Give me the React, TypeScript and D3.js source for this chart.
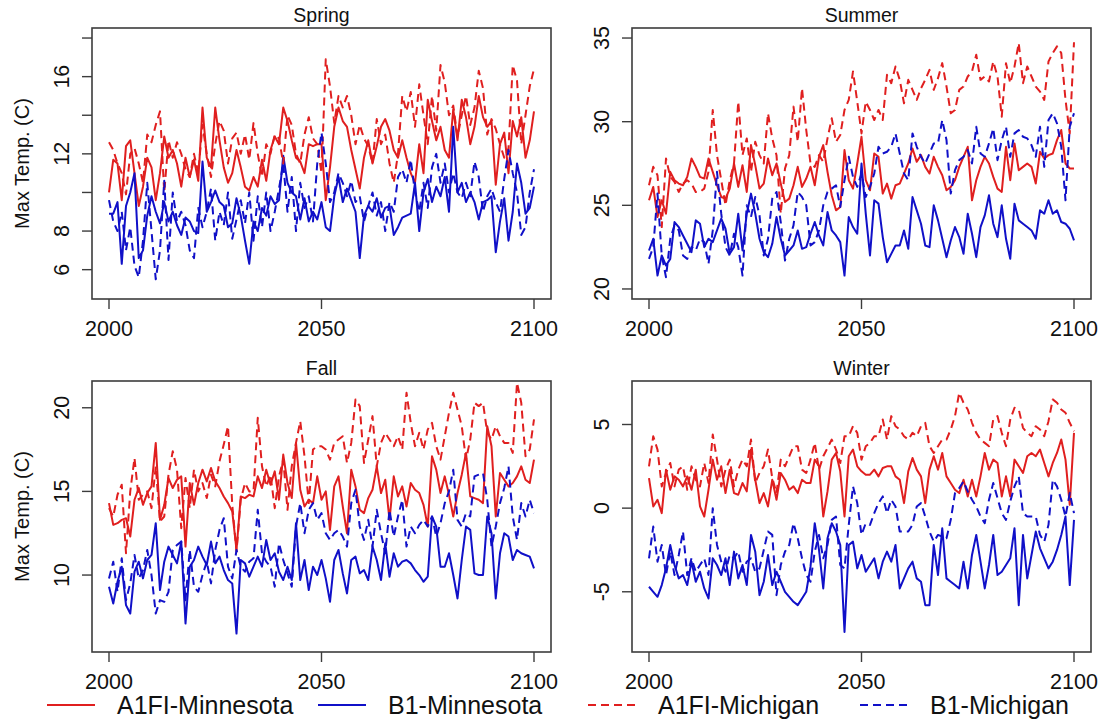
import React from "react";
import * as d3 from "d3";

// Seasonal maximum temperature projections, 2000-2100 (one value per year)
const years: number[] = d3.range(2000, 2101);

const seriesNames = ["A1FI-Minnesota", "B1-Minnesota", "A1FI-Michigan", "B1-Michigan"];
const seasons = ["Spring", "Summer", "Fall", "Winter"];

const springA1Mn = [
  10.0, 11.7, 11.5, 9.6, 12.4, 12.7, 11.0, 9.3, 10.3, 11.8,
  11.3, 9.6, 11.0, 12.9, 11.8, 12.2, 11.5, 10.3, 11.8, 10.8,
  11.7, 10.6, 14.4, 11.8, 11.3, 14.4, 12.7, 11.3, 10.5, 11.0,
  12.2, 11.3, 10.3, 10.1, 10.8, 10.3, 11.7, 10.6, 12.2, 12.9,
  12.5, 14.4, 13.7, 12.7, 11.8, 11.6, 11.0, 12.5, 12.4, 12.5,
  12.5, 9.6, 11.3, 13.4, 14.4, 13.7, 13.4, 12.2, 11.2, 10.2,
  11.8, 12.7, 11.5, 12.4, 13.4, 13.8, 13.2, 12.2, 11.8, 12.7,
  11.8, 11.0, 10.5, 12.5, 11.0, 14.8, 13.7, 12.7, 13.4, 12.2,
  11.8, 14.3, 12.7, 14.8, 13.9, 12.5, 13.4, 15.0, 13.9, 13.4,
  13.7, 10.4, 12.5, 13.1, 11.0, 13.7, 12.9, 13.9, 11.8, 12.7, 14.2,
];
const springB1Mn = [
  8.9, 8.9, 9.5, 6.3, 9.3, 10.0, 11.0, 6.6, 7.0, 8.8,
  9.8, 9.0, 8.4, 9.5, 8.5, 9.0, 8.3, 7.8, 8.7, 8.5,
  8.0, 7.9, 11.6, 9.0, 9.5, 10.1, 9.5, 9.3, 8.2, 8.4,
  9.7, 8.8, 7.5, 6.3, 8.5, 8.0, 9.2, 8.8, 9.8, 9.4,
  9.6, 11.9, 10.5, 10.0, 9.8, 8.6, 9.7, 8.5, 9.0, 8.6,
  9.5, 8.2, 8.0, 9.8, 10.8, 9.5, 10.2, 9.6, 9.0, 6.6,
  8.8, 9.3, 9.0, 9.7, 8.7, 9.2, 9.3, 7.8, 8.2, 8.7,
  8.8, 8.9, 10.5, 8.0, 10.0, 10.7, 9.5, 10.3, 9.8, 10.8,
  9.0, 13.4, 10.0, 10.5, 9.5, 10.0, 9.5, 8.6, 9.5, 9.6,
  9.8, 6.9, 8.5, 9.7, 7.5, 9.0, 11.5, 10.5, 8.9, 9.2, 10.3,
];
const springA1Mi = [
  12.6, 12.2, 11.5, 11.0, 9.9, 12.0, 12.3, 11.5, 10.5, 13.0,
  12.6, 13.5, 14.2, 10.0, 12.7, 11.8, 12.6, 12.0, 11.2, 10.8,
  12.0, 11.0, 13.5, 12.0, 10.8, 12.5, 13.7, 13.2, 11.5, 12.8,
  13.1, 12.0, 13.0, 11.7, 13.6, 12.0, 10.8, 12.5, 12.0, 13.0,
  12.8, 11.5, 14.0, 13.5, 12.0, 11.5, 13.0, 13.9, 12.8, 12.5,
  11.0, 16.9, 15.5, 13.6, 15.0, 14.4, 15.0, 14.0, 12.5, 13.5,
  12.8, 12.4, 11.5, 13.8, 12.5, 13.0, 11.5, 10.5, 12.0, 15.0,
  14.2, 15.2, 13.4, 15.6, 14.0, 12.5, 15.0, 13.2, 16.6, 15.7,
  14.0, 14.5, 12.9, 14.0, 15.0, 13.5, 14.4, 16.3, 15.4, 13.0,
  13.8, 13.3, 12.5, 11.8, 12.3, 16.6, 15.8, 12.5, 14.0, 15.5, 16.4,
];
const springB1Mi = [
  9.6, 8.5, 8.0, 9.0, 7.0, 8.2, 6.2, 5.6, 7.5, 10.5,
  8.0, 5.5, 7.0, 10.6, 6.5, 10.0, 8.5, 9.0, 8.3, 7.0,
  6.6, 9.2, 8.2, 9.0, 10.2, 7.5, 9.0, 8.3, 10.0, 7.6,
  8.6, 9.6, 8.4, 10.0, 7.5, 9.8, 8.2, 10.0, 8.0, 9.0,
  10.2, 11.5, 9.0, 10.8, 8.0, 10.5, 9.2, 9.8, 8.5, 11.5,
  13.1, 11.5, 9.5, 10.0, 11.0, 10.5, 9.8, 10.6, 9.5, 9.8,
  8.5, 9.3, 10.0, 8.8, 9.5, 8.0, 9.5, 9.0, 10.8, 11.2,
  10.5, 11.7, 10.0, 9.0, 10.5, 9.2, 11.3, 12.0, 10.5, 11.5,
  10.0, 11.0, 10.0, 9.7, 10.5, 9.8, 11.6, 10.8, 9.0, 9.8,
  10.2, 9.5, 9.0, 10.7, 12.2, 11.0, 10.0, 7.8, 8.2, 10.0, 11.2,
];

const summerA1Mn = [
  25.3, 26.1, 24.3, 25.3, 24.5, 27.0, 26.5, 26.3, 26.2, 26.7,
  27.8, 27.3, 26.7, 26.6, 27.8, 27.0, 26.2, 25.5, 25.4, 26.0,
  27.5, 26.1, 27.4, 25.8, 28.6, 27.4, 26.0, 26.3, 27.8, 26.8,
  27.5, 26.3, 25.2, 25.4, 26.2, 27.3, 26.1, 26.6, 27.3, 26.2,
  27.9, 28.6, 27.0, 25.6, 24.7, 24.9, 28.3, 26.5, 26.0, 27.5,
  29.1, 26.5, 25.9, 28.1, 27.9, 25.7, 26.3, 25.4, 26.2, 26.3,
  26.9, 27.5, 28.4, 27.6, 28.0, 27.3, 26.9, 27.9, 27.3, 26.8,
  25.9, 26.1, 26.5, 27.3, 27.9, 28.5, 25.3, 26.5, 27.3, 27.9,
  27.5, 26.7, 26.0, 25.8, 28.5, 26.5, 28.7, 27.1, 27.3, 27.5,
  27.3, 26.3, 28.2, 27.8, 28.0, 28.1, 28.9, 29.5, 27.5, 27.2, 27.2,
];
const summerB1Mn = [
  22.3, 23.0, 20.8, 22.0, 21.4, 21.8, 24.0, 23.7, 23.2, 22.7,
  22.2, 24.1, 23.9, 22.5, 23.0, 22.8, 23.5, 24.2, 23.6, 22.1,
  22.5, 24.5, 22.3, 24.5, 25.7, 24.5, 23.0, 22.2, 21.9, 22.7,
  24.3, 23.0, 22.0, 22.3, 22.6, 23.5, 22.4, 22.5, 23.3, 24.0,
  23.2, 22.6, 24.6, 23.5, 23.2, 22.8, 20.8, 24.3, 23.7, 23.3,
  27.5, 24.5, 22.0, 25.3, 25.1, 23.1, 21.6, 22.1, 22.6, 22.6,
  23.5, 22.4, 25.5, 24.7, 23.9, 22.6, 22.5, 25.0, 24.1, 23.0,
  21.9, 22.9, 23.7, 23.1, 22.1, 24.5, 23.3, 21.9, 23.7, 24.4,
  25.6, 23.9, 23.1, 25.0, 23.0, 21.8, 25.1, 24.1, 23.9, 23.7,
  23.5, 23.0, 24.7, 24.5, 25.3, 24.5, 24.7, 24.0, 23.9, 23.6, 22.9,
];
const summerA1Mi = [
  26.2, 27.3, 26.8, 23.7, 27.8, 26.7, 26.4, 25.8, 26.3, 26.5,
  26.3, 25.8, 25.8, 26.0, 27.0, 30.7, 28.0, 26.5, 25.0, 26.5,
  27.5, 31.2, 28.0, 29.0, 27.0, 28.8, 28.0, 27.5, 30.5, 29.0,
  28.0, 24.5, 27.2, 28.0, 30.9, 28.8, 32.0, 29.5, 27.5, 27.3,
  28.0, 27.6, 29.0, 30.2, 28.8, 29.2, 30.7, 31.3, 33.0, 31.2,
  29.3, 31.2, 30.7, 30.1, 30.7, 30.1, 32.8, 32.3, 33.3, 32.5,
  31.1, 32.5, 31.9, 31.3, 32.0, 32.5, 33.1, 31.9, 32.6, 33.5,
  32.1, 30.5, 30.7, 31.9, 32.1, 32.7, 33.0, 34.0, 32.5, 32.7,
  32.4, 33.6, 32.7, 30.3, 33.5, 32.3, 33.3, 34.7, 32.3, 33.3,
  32.7, 32.1, 31.8, 31.3, 33.6, 34.1, 34.5, 34.1, 31.3, 29.3, 34.75,
];
const summerB1Mi = [
  21.8, 22.5, 25.7, 22.0, 20.7, 23.0, 23.8, 23.5, 22.0, 21.8,
  22.5, 22.3, 23.0, 22.8, 21.5, 23.5, 27.0, 24.5, 22.5, 22.0,
  23.3, 22.5, 20.8, 25.0, 24.3, 25.5, 24.4, 22.0, 23.0, 25.4,
  25.8, 24.0, 21.7, 23.0, 23.8, 25.8, 25.5, 25.0, 22.6, 22.8,
  23.5, 25.0, 25.8, 26.0, 26.2, 24.9, 26.5, 27.9, 26.7, 26.1,
  26.9, 25.5, 26.1, 26.9, 28.5, 28.1, 28.2, 28.5, 29.3, 28.1,
  26.9, 26.5, 29.3, 28.5, 27.9, 27.5, 28.1, 28.7, 28.7, 30.1,
  28.9, 25.7, 27.1, 27.7, 27.9, 28.3, 27.5, 29.7, 28.1, 27.9,
  28.7, 29.6, 27.7, 28.9, 29.7, 27.9, 29.3, 29.5, 29.1, 29.0,
  28.6, 27.9, 29.7, 27.3, 30.1, 30.5, 29.9, 28.5, 25.3, 29.7, 30.5,
];

const fallA1Mn = [
  14.3, 13.0, 13.1, 13.3, 13.4, 12.3, 14.5, 15.2, 14.2, 14.9,
  15.3, 17.9, 13.3, 14.2, 15.8, 15.2, 15.7, 15.9, 11.7, 15.5,
  14.2, 15.5, 16.3, 15.6, 16.4, 15.6, 15.2, 14.7, 14.3, 13.8,
  11.5, 14.7, 14.6, 14.8, 14.7, 15.9, 15.2, 16.3, 15.4, 16.2,
  14.5, 17.2, 15.5, 14.6, 17.9, 15.1, 14.1, 14.5, 14.3, 15.9,
  14.5, 15.0, 12.7, 15.3, 15.9, 14.1, 12.5, 16.3, 15.3, 13.9,
  13.7, 14.6, 15.1, 16.5, 14.9, 15.7, 13.3, 15.9, 14.7, 15.3,
  14.1, 15.5, 15.1, 14.9, 14.2, 12.9, 17.1, 16.3, 14.9, 15.9,
  14.8, 13.5, 14.9, 16.0, 17.3, 14.7, 14.6, 14.5, 14.3, 18.9,
  17.7, 13.5, 16.1, 15.7, 15.3, 15.5, 15.9, 16.5, 15.7, 15.5, 16.9,
];
const fallB1Mn = [
  9.3, 8.3, 9.6, 10.5, 8.2, 7.7, 10.2, 10.8, 9.8, 10.9,
  11.2, 13.1, 9.1, 10.8, 11.7, 11.2, 10.7, 12.0, 7.1, 10.5,
  10.9, 11.7, 11.1, 10.6, 12.0, 10.7, 11.1, 10.3, 9.7, 9.5,
  6.5, 10.9, 10.7, 9.9, 10.5, 11.1, 10.5, 12.1, 10.9, 11.3,
  10.2, 9.7, 10.5, 9.7, 13.1, 9.7, 10.9, 9.1, 10.5, 10.0,
  10.9, 9.8, 8.4, 10.9, 11.5, 10.1, 8.9, 10.9, 11.1, 10.1,
  10.3, 9.7, 11.7, 10.9, 9.7, 11.9, 9.9, 11.3, 10.5, 10.8,
  10.9, 10.7, 10.3, 10.0, 9.6, 9.9, 13.5, 12.9, 10.5, 10.5,
  11.3, 10.0, 8.6, 10.9, 12.9, 12.7, 10.1, 10.0, 10.0, 13.5,
  12.5, 8.6, 11.3, 12.5, 12.3, 10.9, 11.5, 11.3, 11.2, 11.1, 10.4,
];
const fallA1Mi = [
  14.0, 13.5, 14.8, 15.4, 11.3, 15.0, 17.0, 14.5, 14.8, 15.0,
  14.0, 16.5, 13.2, 13.5, 16.0, 17.4, 16.3, 12.8, 15.8, 14.0,
  16.3, 15.0, 15.5, 14.6, 16.0, 15.3, 16.8, 17.8, 18.9, 14.2,
  11.4, 14.5, 15.5, 15.0, 15.0, 19.4, 16.5, 15.3, 16.0, 14.0,
  15.9, 16.9, 13.9, 16.5, 17.9, 19.2, 17.1, 14.3, 17.5, 17.7,
  17.7, 17.5, 16.9, 17.9, 18.1, 18.3, 16.7, 17.9, 20.5, 20.1,
  16.7, 18.1, 19.5, 16.5, 17.9, 18.5, 18.1, 17.7, 18.3, 17.5,
  20.9, 19.1, 17.7, 18.5, 17.5, 18.7, 19.1, 17.7, 16.9, 18.3,
  19.7, 20.9, 19.9, 18.9, 16.9, 18.1, 20.3, 20.1, 20.3, 18.5,
  18.1, 18.9, 18.3, 17.9, 17.9, 17.3, 21.5, 20.3, 17.1, 17.5, 19.3,
];
const fallB1Mi = [
  9.8, 10.8, 9.0, 11.0, 8.5, 9.5, 11.2, 9.8, 10.3, 11.5,
  10.0, 7.7, 8.5, 8.4, 9.0, 11.5, 11.8, 12.0, 8.5, 11.5,
  9.3, 9.0, 10.0, 10.8, 9.5, 11.5, 12.7, 13.4, 10.5, 9.8,
  11.5, 10.5, 10.2, 10.8, 11.0, 13.9, 11.3, 10.8, 10.5, 9.3,
  11.9, 10.9, 10.1, 9.3, 12.9, 14.3, 12.5, 13.9, 14.3, 13.3,
  13.7, 12.5, 12.1, 12.5, 12.7, 12.3, 11.7, 14.3, 15.1, 12.9,
  12.1, 13.3, 11.7, 13.9, 12.5, 11.3, 13.9, 12.3, 13.5, 14.5,
  11.7, 12.9, 12.5, 13.0, 13.3, 12.9, 13.5, 12.3, 13.1, 14.3,
  15.0, 16.3, 13.3, 12.9, 13.7, 13.5, 15.9, 16.0, 16.1, 14.5,
  11.7, 12.9, 14.3, 15.2, 16.5, 13.5, 12.1, 14.3, 13.5, 14.5, 13.7,
];

const winterA1Mn = [
  1.8, 0.1, 0.5, -0.3, 2.3, 1.1, 1.9, 1.7, 1.3, 1.9,
  1.1, 2.3, 0.1, -0.5, 1.1, 2.9, 1.7, 2.5, 0.9, 2.3,
  0.9, 0.8, 1.5, 1.0, 3.5, 1.7, 0.3, 0.9, 0.1, 1.7,
  0.5, 2.1, 1.7, 1.1, 1.3, 0.9, 1.7, 1.5, 1.5, 2.9,
  2.5, -0.5, 1.0, 2.9, 3.3, 2.2, -0.5, 3.1, 3.5, 2.5,
  2.2, 2.0, 2.0, 2.3, 1.9, 2.4, 2.5, 2.5, 1.9, 1.7,
  0.3, 2.2, 3.0, 2.3, 1.9, 0.3, 2.3, 3.1, 2.3, 3.3,
  1.9, 1.5, 1.1, 0.9, 1.7, 0.7, 1.7, 0.7, 1.9, 3.3,
  2.3, 2.9, 2.7, 0.7, 1.9, 0.7, 2.9, 2.5, 2.1, 3.1,
  3.3, 3.1, 3.5, 2.7, 1.9, 2.7, 3.3, 4.1, 2.9, 0.2, 4.5,
];
const winterB1Mn = [
  -4.7, -5.0, -5.3, -4.6, -3.6, -2.2, -3.4, -4.2, -4.0, -4.6,
  -3.2, -4.4, -3.8, -4.8, -5.4, -3.0, -3.4, -4.0, -3.0, -4.6,
  -2.6, -4.2, -3.4, -4.6, -1.6, -2.6, -5.2, -4.4, -2.8, -4.6,
  -3.8, -4.4, -5.0, -5.3, -5.6, -5.8, -5.4, -5.0, -3.5, -0.9,
  -2.5, -4.8, -1.8, -0.9, -1.4, -2.2, -7.4, -2.2, -2.0, -3.6,
  -2.8, -3.8, -3.4, -3.0, -4.2, -3.2, -2.6, -3.2, -2.2, -4.8,
  -4.2, -3.6, -3.2, -4.2, -4.4, -5.8, -5.8, -2.2, -4.0, -1.2,
  -4.2, -4.4, -4.6, -4.8, -3.2, -4.8, -2.8, -1.6, -3.2, -4.8,
  -3.4, -1.6, -4.0, -3.8, -3.4, -3.0, -1.2, -5.8, -1.6, -4.2,
  -2.8, -1.4, -2.4, -3.0, -3.6, -3.2, -2.5, -1.6, -0.5, -4.6, -0.7,
];
const winterA1Mi = [
  2.5, 4.3, 3.5, 1.3, 2.1, 2.7, 1.3, 2.3, 2.5, 1.1,
  2.5, 1.7, 1.3, 2.7, 1.5, 4.4, 2.9, 1.3, 2.3, 2.9,
  1.3, 2.3, 2.9, 2.5, 4.1, 1.5, 2.1, 2.5, 3.5, 1.8,
  0.9, 2.9, 2.5, 3.1, 3.7, 3.7, 2.3, 2.1, 2.9, 3.9,
  2.3, 3.1, 3.6, 4.1, 3.5, 2.7, 4.3, 4.3, 4.9, 4.5,
  2.9, 3.7, 3.9, 4.3, 4.3, 5.3, 4.1, 5.5, 4.9, 4.7,
  4.3, 4.1, 4.5, 4.3, 4.9, 5.1, 3.7, 3.3, 3.7, 4.1,
  4.1, 4.7, 5.5, 6.9, 6.3, 5.9, 5.1, 4.5, 4.1, 3.9,
  3.7, 5.3, 5.5, 4.5, 3.7, 5.3, 6.0, 5.9, 4.8, 4.5,
  4.3, 4.9, 4.7, 4.3, 5.2, 6.5, 6.3, 5.9, 5.7, 5.1, 4.6,
];
const winterB1Mi = [
  -3.0, -1.1, -3.2, -2.2, -4.0, -2.6, -4.0, -2.8, -1.4, -4.0,
  -3.0, -3.8, -3.4, -3.0, -4.0, 0.0, -2.2, -3.2, -3.8, -2.8,
  -3.0, -2.6, -3.8, -3.2, -3.0, -3.8, -3.6, -2.5, -1.4, -1.6,
  -5.2, -3.4, -2.6, -2.2, -0.9, -1.8, -3.0, -4.0, -4.4, -2.6,
  -1.6, -3.0, -2.2, -0.7, -0.5, -3.4, -3.6, -1.0, 1.3, 0.3,
  -1.6, -0.9, -1.0, -0.3, 0.3, 0.7, -0.3, 0.5, 0.1, -1.4,
  -1.4, -1.4, -1.0, 0.1, 0.3, -0.5, -1.4, -2.0, -1.6, -1.7,
  -1.8, -0.7, 0.9, 1.2, 1.6, 1.0, 0.5, 0.1, -0.5, -0.9,
  0.5, 1.5, 0.6, -0.3, -0.7, 0.4, 1.3, 1.9, -0.3, -0.5,
  -0.5, -0.5, -1.6, -2.0, -1.0, 1.7, 1.3, 0.5, -0.5, 0.9, -0.3,
];

// y-axis limits, tick positions and which ticks carry a label, per season
const yLimits: [number, number][] = [[5, 18], [20, 35], [6, 21], [-8, 7]];
const yTicks: number[][] = [[6, 8, 10, 12, 14, 16, 18], [20, 25, 30, 35], [10, 15, 20], [-5, 0, 5]];
const yTickLabels: number[][] = [[6, 8, 12, 16], [20, 25, 30, 35], [10, 15, 20], [-5, 0, 5]];
const xTicks = [2000, 2050, 2100];

// series order matches seriesNames: A1FI-MN, B1-MN, A1FI-MI, B1-MI
const seasonData: number[][][] = [
  [springA1Mn, springB1Mn, springA1Mi, springB1Mi],
  [summerA1Mn, summerB1Mn, summerA1Mi, summerB1Mi],
  [fallA1Mn, fallB1Mn, fallA1Mi, fallB1Mi],
  [winterA1Mn, winterB1Mn, winterA1Mi, winterB1Mi],
];

// styling
const RED = "#e01f1f";
const BLUE = "#1010c8";
const seriesColor = [RED, BLUE, RED, BLUE];
const seriesDash = [null, null, "8,5", "8,5"];
const FRAME = "#3c3c3c";
const FONT = "'Liberation Sans', Arial, Helvetica, sans-serif";

// panel frames (left, right, top, bottom)
const frames = [
  { x0: 92, x1: 551, y0: 28, y1: 299 },
  { x0: 632, x1: 1091, y0: 28, y1: 299 },
  { x0: 92, x1: 551, y0: 381, y1: 652 },
  { x0: 632, x1: 1091, y0: 381, y1: 652 },
];

const legendX = [47, 318, 588, 860];
const legendY = 705;

function extend([lo, hi]: [number, number]): [number, number] {
  const pad = (hi - lo) * 0.04;
  return [lo - pad, hi + pad];
}

function Panel({ idx }: { idx: number }) {
  const f = frames[idx];
  const x = d3.scaleLinear().domain(extend([2000, 2100])).range([f.x0, f.x1]);
  const y = d3.scaleLinear().domain(extend(yLimits[idx])).range([f.y1, f.y0]);
  const line = d3
    .line<number>()
    .x((_, i) => x(years[i]))
    .y((v) => y(v));
  const showYLab = idx % 2 === 0;
  return (
    <g>
      <defs>
        <clipPath id={`clip-${idx}`}>
          <rect x={f.x0} y={f.y0} width={f.x1 - f.x0} height={f.y1 - f.y0} />
        </clipPath>
      </defs>
      <g clipPath={`url(#clip-${idx})`}>
        {seasonData[idx].map((vals, s) => (
          <path
            key={s}
            d={line(vals) || ""}
            fill="none"
            stroke={seriesColor[s]}
            strokeWidth={2}
            strokeDasharray={seriesDash[s] || undefined}
            strokeLinejoin="round"
          />
        ))}
      </g>
      <rect
        x={f.x0}
        y={f.y0}
        width={f.x1 - f.x0}
        height={f.y1 - f.y0}
        fill="none"
        stroke={FRAME}
        strokeWidth={1.6}
      />
      {xTicks.map((t) => (
        <g key={t}>
          <line x1={x(t)} x2={x(t)} y1={f.y1} y2={f.y1 + 10} stroke={FRAME} strokeWidth={1.4} />
          <text
            x={x(t)}
            y={f.y1 + 37}
            textAnchor="middle"
            fontSize={21.5}
            fontFamily={FONT}
            fill="#111"
          >
            {t}
          </text>
        </g>
      ))}
      {yTicks[idx].map((t) => (
        <line key={t} x1={f.x0 - 10} x2={f.x0} y1={y(t)} y2={y(t)} stroke={FRAME} strokeWidth={1.4} />
      ))}
      {yTickLabels[idx].map((t) => (
        <text
          key={t}
          transform={`translate(${f.x0 - 23},${y(t)}) rotate(-90)`}
          textAnchor="middle"
          fontSize={21.5}
          fontFamily={FONT}
          fill="#111"
        >
          {t}
        </text>
      ))}
      <text
        x={(f.x0 + f.x1) / 2}
        y={f.y0 - 6}
        textAnchor="middle"
        fontSize={19.5}
        fontFamily={FONT}
        fill="#111"
      >
        {seasons[idx]}
      </text>
      {showYLab && (
        <text
          transform={`translate(29,${(f.y0 + f.y1) / 2}) rotate(-90)`}
          textAnchor="middle"
          fontSize={20}
          fontFamily={FONT}
          fill="#111"
        >
          Max Temp. (C)
        </text>
      )}
    </g>
  );
}

export default function App() {
  return (
    <svg
      width={1105}
      height={721}
      style={{ position: "absolute", left: 0, top: 0, background: "#fff" }}
    >
      <rect width={1105} height={721} fill="#fff" />
      {[0, 1, 2, 3].map((i) => (
        <Panel key={i} idx={i} />
      ))}
      {seriesNames.map((name, s) => (
        <g key={name}>
          <line
            x1={legendX[s]}
            x2={legendX[s] + 48}
            y1={legendY}
            y2={legendY}
            stroke={seriesColor[s]}
            strokeWidth={2}
            strokeDasharray={seriesDash[s] || undefined}
          />
          <text x={legendX[s] + 70} y={legendY + 9} fontSize={25} fontFamily={FONT} fill="#111">
            {name}
          </text>
        </g>
      ))}
    </svg>
  );
}
